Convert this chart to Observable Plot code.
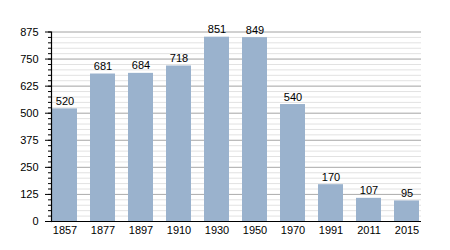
<!DOCTYPE html>
<html><head><meta charset="utf-8">
<script src="https://cdn.jsdelivr.net/npm/d3@7"></script>
<script src="https://cdn.jsdelivr.net/npm/@observablehq/plot@0.6"></script>
<style>body{margin:0;background:#fff;font-family:"Liberation Sans",Arial,sans-serif;}</style>
</head><body><div id="chart"></div>
<script>
const years = ["1857","1877","1897","1910","1930","1950","1970","1991","2011","2015"];
const population = [520,681,684,718,851,849,540,170,107,95];
const majorTicks = [0,125,250,375,500,625,750,875];
const minorTicks = d3.range(0, 876, 25);
const data = years.map((y,i)=>({year:y, value:population[i]}));

const plot = Plot.plot({
  width: 450, height: 250,
  marginLeft: 51, marginRight: 29, marginTop: 31.5, marginBottom: 29,
  style: {fontFamily: '"Liberation Sans", Arial, sans-serif', fontSize: "11px", color: "#000"},
  x: {domain: years, paddingInner: 0.33, paddingOuter: 0, label: null},
  y: {domain: [0, 875], label: null},
  marks: [
    Plot.ruleY(minorTicks, {stroke: "#e2e2e2", strokeWidth: 1}),
    Plot.ruleY(majorTicks, {stroke: "#b0b0b0", strokeWidth: 1}),
    Plot.barY(data, {x: "year", y: "value", fill: "#9ab2cd"}),
    Plot.text(data, {x: "year", y: "value", text: d => String(d.value), lineAnchor: "bottom", dy: -4, fontSize: 11, fill: "#000"}),
    Plot.ruleY([0], {stroke: "#000", strokeWidth: 1.2}),
    Plot.frame({anchor: "left", stroke: "#000", strokeWidth: 1.2}),
    Plot.axisY(minorTicks, {tickSize: 3, text: null, stroke: "#000"}),
    Plot.axisY(majorTicks, {tickSize: 6, tickPadding: 7, stroke: "#000", fill: "#000", fontSize: 11}),
    Plot.axisX({tickSize: 0, tickPadding: 5, fill: "#000", fontSize: 11})
  ]
});
document.getElementById("chart").appendChild(plot);
</script></body></html>
